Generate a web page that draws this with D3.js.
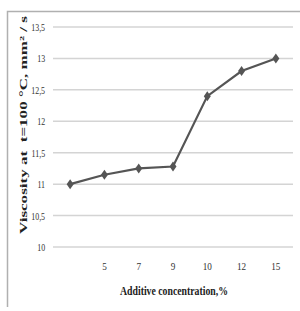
<!DOCTYPE html>
<html><head><meta charset="utf-8">
<script src="https://cdn.jsdelivr.net/npm/d3@7"></script>
<style>body{margin:0;background:#fff}svg{display:block}</style>
</head><body>
<script>
const categories = ["", "5", "7", "9", "10", "12", "15"];
const viscosity = [11.0, 11.15, 11.25, 11.28, 12.4, 12.8, 13.0];
const yTicks = [10, 10.5, 11, 11.5, 12, 12.5, 13, 13.5];

(function () {
const W = 300, H = 311;
const svg = d3.select("body").append("svg").attr("width", W).attr("height", H);

// frame
svg.append("path").attr("d", "M7.5,307 L7.5,11.5 L300,11.5")
  .attr("fill", "none").attr("stroke", "#b0b0b0").attr("stroke-width", 1.5);

const mLeft = 53, mRight = 293, mTop = 27, mBottom = 247;
const x = d3.scaleBand().domain(d3.range(categories.length)).range([mLeft, mRight]);
const y = d3.scaleLinear().domain([10, 13.5]).range([mBottom, mTop]);
const fmt = v => String(v).replace(".", ",");

// gridlines
svg.append("g").selectAll("line").data(yTicks).join("line")
  .attr("x1", mLeft).attr("x2", mRight)
  .attr("y1", d => y(d)).attr("y2", d => y(d))
  .attr("stroke", "#d4d4d4").attr("stroke-width", 1.5);

// y axis labels
const yAxis = d3.axisLeft(y).tickValues(yTicks).tickFormat(fmt).tickSize(0).tickPadding(11);
const gy = svg.append("g").attr("transform", `translate(${mLeft},0)`).call(yAxis);
gy.select(".domain").remove();
gy.selectAll("text").attr("font-family", "Liberation Serif, serif").attr("font-size", 11)
  .attr("fill", "#333").attr("transform", "scale(0.72,1)");

// x axis labels
const xAxis = d3.axisBottom(x).tickFormat(i => categories[i]).tickSize(0).tickPadding(15);
const gx = svg.append("g").attr("transform", `translate(0,${mBottom})`).call(xAxis);
gx.select(".domain").remove();
gx.selectAll("text").attr("font-family", "Liberation Serif, serif").attr("font-size", 11)
  .attr("fill", "#333").attr("textLength", function () { return this.textContent.length * 4.6; })
  .attr("lengthAdjust", "spacingAndGlyphs");

// line
const line = d3.line().x((d, i) => x(i) + x.bandwidth() / 2).y(d => y(d));
svg.append("path").datum(viscosity).attr("d", line)
  .attr("fill", "none").attr("stroke", "#555").attr("stroke-width", 2.2);

// diamond markers
svg.append("g").selectAll("path").data(viscosity).join("path")
  .attr("transform", (d, i) => `translate(${x(i) + x.bandwidth() / 2},${y(d)})`)
  .attr("d", "M0,-5 L3.5,0 L0,5 L-3.5,0 Z")
  .attr("fill", "#555");

// axis titles
svg.append("text").attr("x", 174).attr("y", 295).attr("text-anchor", "middle")
  .attr("font-family", "Liberation Serif, serif").attr("font-weight", "bold").attr("font-size", 12)
  .attr("textLength", 108).attr("lengthAdjust", "spacingAndGlyphs").attr("fill", "#222")
  .text("Additive concentration,%");

svg.append("text").attr("transform", "translate(27,125) rotate(-90)").attr("text-anchor", "middle")
  .attr("font-family", "Liberation Serif, serif").attr("font-weight", "bold").attr("font-size", 11)
  .attr("textLength", 218).attr("lengthAdjust", "spacingAndGlyphs").attr("fill", "#222")
  .html("Viscosity at&#160;&#160;t=100 °C, mm² / s");
})();
</script>
</body></html>
